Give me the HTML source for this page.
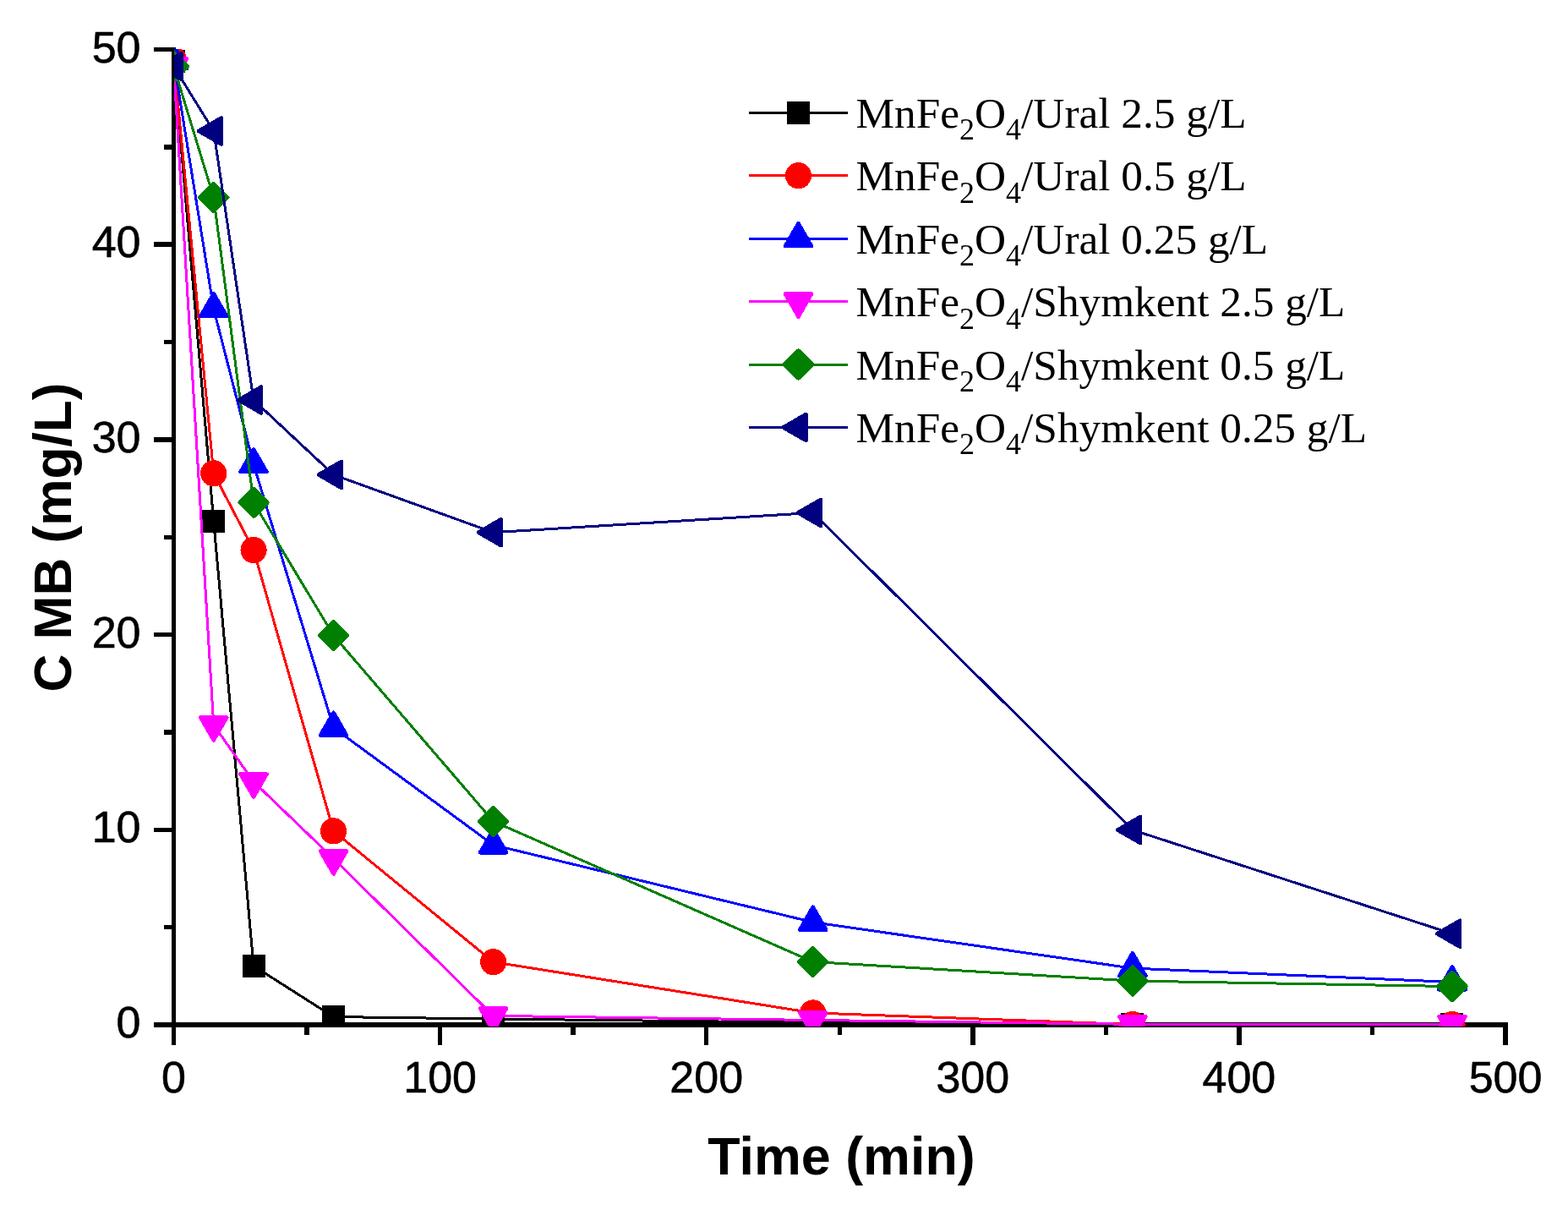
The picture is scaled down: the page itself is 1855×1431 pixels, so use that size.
<!DOCTYPE html>
<html lang="en">
<head>
<meta charset="utf-8">
<title>C MB vs Time</title>
<style>
html,body{margin:0;padding:0;background:#fff;}
body{width:1855px;height:1431px;overflow:hidden;}
svg{display:block;}
.tk{font-family:"Liberation Sans",sans-serif;font-size:52px;fill:#000;stroke:#000;stroke-width:0.6px;}
.ti{font-family:"Liberation Sans",sans-serif;font-size:62.8px;font-weight:bold;fill:#000;}
.lg{font-family:"Liberation Serif",serif;font-size:51.3px;fill:#000;}
</style>
</head>
<body>
<svg width="1855" height="1431" viewBox="0 0 1855 1431">
<rect width="1855" height="1431" fill="#fff"/>

<g stroke="#000" stroke-width="5.5" fill="none" shape-rendering="crispEdges">
<line x1="205.5" y1="56" x2="205.5" y2="1215"/>
<line x1="203" y1="1212" x2="1784" y2="1212"/>
<line x1="182" y1="1212" x2="205.5" y2="1212"/>
<line x1="194" y1="1096.65" x2="205.5" y2="1096.65"/>
<line x1="182" y1="981.3" x2="205.5" y2="981.3"/>
<line x1="194" y1="865.95" x2="205.5" y2="865.95"/>
<line x1="182" y1="750.6" x2="205.5" y2="750.6"/>
<line x1="194" y1="635.25" x2="205.5" y2="635.25"/>
<line x1="182" y1="519.9" x2="205.5" y2="519.9"/>
<line x1="194" y1="404.55" x2="205.5" y2="404.55"/>
<line x1="182" y1="289.2" x2="205.5" y2="289.2"/>
<line x1="194" y1="173.85" x2="205.5" y2="173.85"/>
<line x1="182" y1="58.5" x2="205.5" y2="58.5"/>
<line x1="205.5" y1="1212" x2="205.5" y2="1236"/>
<line x1="363.05" y1="1212" x2="363.05" y2="1224"/>
<line x1="520.6" y1="1212" x2="520.6" y2="1236"/>
<line x1="678.15" y1="1212" x2="678.15" y2="1224"/>
<line x1="835.7" y1="1212" x2="835.7" y2="1236"/>
<line x1="993.25" y1="1212" x2="993.25" y2="1224"/>
<line x1="1150.8" y1="1212" x2="1150.8" y2="1236"/>
<line x1="1308.35" y1="1212" x2="1308.35" y2="1224"/>
<line x1="1465.9" y1="1212" x2="1465.9" y2="1236"/>
<line x1="1623.45" y1="1212" x2="1623.45" y2="1224"/>
<line x1="1781" y1="1212" x2="1781" y2="1236"/>
</g>
<text class="tk" transform="translate(166.5,1227)" text-anchor="end">0</text>
<text class="tk" transform="translate(166.5,996.3)" text-anchor="end">10</text>
<text class="tk" transform="translate(166.5,765.6)" text-anchor="end">20</text>
<text class="tk" transform="translate(166.5,534.9)" text-anchor="end">30</text>
<text class="tk" transform="translate(166.5,304.2)" text-anchor="end">40</text>
<text class="tk" transform="translate(166.5,73.5)" text-anchor="end">50</text>
<text class="tk" transform="translate(205.5,1292)" text-anchor="middle">0</text>
<text class="tk" transform="translate(520.6,1292)" text-anchor="middle">100</text>
<text class="tk" transform="translate(835.7,1292)" text-anchor="middle">200</text>
<text class="tk" transform="translate(1150.8,1292)" text-anchor="middle">300</text>
<text class="tk" transform="translate(1465.9,1292)" text-anchor="middle">400</text>
<text class="tk" transform="translate(1781,1292)" text-anchor="middle">500</text>
<text class="ti" x="995.5" y="1389" text-anchor="middle">Time (min)</text>
<text class="ti" style="font-size:62.2px" transform="translate(84,635.5) rotate(-90)" text-anchor="middle">C MB (mg/L)</text>
<defs><clipPath id="pc"><rect x="206" y="58" width="1578" height="1156"/></clipPath></defs>
<g clip-path="url(#pc)" shape-rendering="crispEdges">
<polyline points="205.5,72.34 252.76,616.56 300.03,1142.33 394.56,1202.54 583.62,1205.08 961.74,1209.23 1339.86,1211.31 1717.98,1211.31" fill="none" stroke="#000000" stroke-width="3.0" stroke-linejoin="miter"/>
<rect x="192" y="58.84" width="27" height="27" fill="#000000"/>
<rect x="239.26" y="603.06" width="27" height="27" fill="#000000"/>
<rect x="286.53" y="1128.83" width="27" height="27" fill="#000000"/>
<rect x="381.06" y="1189.04" width="27" height="27" fill="#000000"/>
<rect x="570.12" y="1191.58" width="27" height="27" fill="#000000"/>
<rect x="948.24" y="1195.73" width="27" height="27" fill="#000000"/>
<rect x="1326.36" y="1197.81" width="27" height="27" fill="#000000"/>
<rect x="1704.48" y="1197.81" width="27" height="27" fill="#000000"/>
<polyline points="205.5,70.96 252.76,559.81 300.03,650.48 394.56,982.91 583.62,1137.71 961.74,1197.93 1339.86,1211.54 1717.98,1211.54" fill="none" stroke="#FF0000" stroke-width="3.0" stroke-linejoin="miter"/>
<circle cx="205.5" cy="70.96" r="15.6" fill="#FF0000"/>
<circle cx="252.76" cy="559.81" r="15.6" fill="#FF0000"/>
<circle cx="300.03" cy="650.48" r="15.6" fill="#FF0000"/>
<circle cx="394.56" cy="982.91" r="15.6" fill="#FF0000"/>
<circle cx="583.62" cy="1137.71" r="15.6" fill="#FF0000"/>
<circle cx="961.74" cy="1197.93" r="15.6" fill="#FF0000"/>
<circle cx="1339.86" cy="1211.54" r="15.6" fill="#FF0000"/>
<circle cx="1717.98" cy="1211.54" r="15.6" fill="#FF0000"/>
<polyline points="205.5,72.11 252.76,365.1 300.03,549.2 394.56,860.64 583.62,999.29 961.74,1090.65 1339.86,1145.1 1717.98,1161.48" fill="none" stroke="#0000FF" stroke-width="3.0" stroke-linejoin="miter"/>
<polygon points="205.5,54.04 221.15,81.15 189.85,81.15" fill="#0000FF" stroke="#0000FF" stroke-width="4.4" stroke-linejoin="round"/>
<polygon points="252.76,347.03 268.41,374.14 237.11,374.14" fill="#0000FF" stroke="#0000FF" stroke-width="4.4" stroke-linejoin="round"/>
<polygon points="300.03,531.13 315.68,558.23 284.38,558.23" fill="#0000FF" stroke="#0000FF" stroke-width="4.4" stroke-linejoin="round"/>
<polygon points="394.56,842.57 410.21,869.68 378.91,869.68" fill="#0000FF" stroke="#0000FF" stroke-width="4.4" stroke-linejoin="round"/>
<polygon points="583.62,981.22 599.27,1008.33 567.97,1008.33" fill="#0000FF" stroke="#0000FF" stroke-width="4.4" stroke-linejoin="round"/>
<polygon points="961.74,1072.58 977.39,1099.69 946.09,1099.69" fill="#0000FF" stroke="#0000FF" stroke-width="4.4" stroke-linejoin="round"/>
<polygon points="1339.86,1127.03 1355.51,1154.13 1324.21,1154.13" fill="#0000FF" stroke="#0000FF" stroke-width="4.4" stroke-linejoin="round"/>
<polygon points="1717.98,1143.41 1733.63,1170.51 1702.33,1170.51" fill="#0000FF" stroke="#0000FF" stroke-width="4.4" stroke-linejoin="round"/>
<polyline points="205.5,78.34 252.76,857.41 300.03,924.55 394.56,1015.44 583.62,1201.39 961.74,1206.46 1339.86,1211.31 1717.98,1211.31" fill="none" stroke="#FF00FF" stroke-width="3.0" stroke-linejoin="miter"/>
<polygon points="189.85,69.3 221.15,69.3 205.5,96.41" fill="#FF00FF" stroke="#FF00FF" stroke-width="4.4" stroke-linejoin="round"/>
<polygon points="237.11,848.38 268.41,848.38 252.76,875.49" fill="#FF00FF" stroke="#FF00FF" stroke-width="4.4" stroke-linejoin="round"/>
<polygon points="284.38,915.51 315.68,915.51 300.03,942.62" fill="#FF00FF" stroke="#FF00FF" stroke-width="4.4" stroke-linejoin="round"/>
<polygon points="378.91,1006.41 410.21,1006.41 394.56,1033.51" fill="#FF00FF" stroke="#FF00FF" stroke-width="4.4" stroke-linejoin="round"/>
<polygon points="567.97,1192.35 599.27,1192.35 583.62,1219.46" fill="#FF00FF" stroke="#FF00FF" stroke-width="4.4" stroke-linejoin="round"/>
<polygon points="946.09,1197.43 977.39,1197.43 961.74,1224.53" fill="#FF00FF" stroke="#FF00FF" stroke-width="4.4" stroke-linejoin="round"/>
<polygon points="1324.21,1202.27 1355.51,1202.27 1339.86,1229.38" fill="#FF00FF" stroke="#FF00FF" stroke-width="4.4" stroke-linejoin="round"/>
<polygon points="1702.33,1202.27 1733.63,1202.27 1717.98,1229.38" fill="#FF00FF" stroke="#FF00FF" stroke-width="4.4" stroke-linejoin="round"/>
<polyline points="205.5,78.57 252.76,233.6 300.03,594.42 394.56,751.52 583.62,971.38 961.74,1137.48 1339.86,1160.09 1717.98,1166.55" fill="none" stroke="#008000" stroke-width="3.0" stroke-linejoin="miter"/>
<polygon points="205.5,62.12 221.95,78.57 205.5,95.02 189.05,78.57" fill="#008000" stroke="#008000" stroke-width="4.4" stroke-linejoin="round"/>
<polygon points="252.76,217.15 269.21,233.6 252.76,250.05 236.31,233.6" fill="#008000" stroke="#008000" stroke-width="4.4" stroke-linejoin="round"/>
<polygon points="300.03,577.97 316.48,594.42 300.03,610.87 283.58,594.42" fill="#008000" stroke="#008000" stroke-width="4.4" stroke-linejoin="round"/>
<polygon points="394.56,735.07 411.01,751.52 394.56,767.97 378.11,751.52" fill="#008000" stroke="#008000" stroke-width="4.4" stroke-linejoin="round"/>
<polygon points="583.62,954.93 600.07,971.38 583.62,987.83 567.17,971.38" fill="#008000" stroke="#008000" stroke-width="4.4" stroke-linejoin="round"/>
<polygon points="961.74,1121.03 978.19,1137.48 961.74,1153.93 945.29,1137.48" fill="#008000" stroke="#008000" stroke-width="4.4" stroke-linejoin="round"/>
<polygon points="1339.86,1143.64 1356.31,1160.09 1339.86,1176.54 1323.41,1160.09" fill="#008000" stroke="#008000" stroke-width="4.4" stroke-linejoin="round"/>
<polygon points="1717.98,1150.1 1734.43,1166.55 1717.98,1183 1701.53,1166.55" fill="#008000" stroke="#008000" stroke-width="4.4" stroke-linejoin="round"/>
<polyline points="205.5,78.57 252.76,154.93 300.03,473.07 394.56,561.43 583.62,629.71 961.74,606.41 1339.86,981.53 1717.98,1104.26" fill="none" stroke="#000080" stroke-width="3.0" stroke-linejoin="miter"/>
<polygon points="187.63,78.57 214.74,62.92 214.74,94.22" fill="#000080" stroke="#000080" stroke-width="4.4" stroke-linejoin="round"/>
<polygon points="234.89,154.93 262,139.28 262,170.58" fill="#000080" stroke="#000080" stroke-width="4.4" stroke-linejoin="round"/>
<polygon points="282.16,473.07 309.27,457.42 309.27,488.72" fill="#000080" stroke="#000080" stroke-width="4.4" stroke-linejoin="round"/>
<polygon points="376.69,561.43 403.8,545.78 403.8,577.08" fill="#000080" stroke="#000080" stroke-width="4.4" stroke-linejoin="round"/>
<polygon points="565.75,629.71 592.86,614.06 592.86,645.36" fill="#000080" stroke="#000080" stroke-width="4.4" stroke-linejoin="round"/>
<polygon points="943.87,606.41 970.98,590.76 970.98,622.06" fill="#000080" stroke="#000080" stroke-width="4.4" stroke-linejoin="round"/>
<polygon points="1321.99,981.53 1349.1,965.88 1349.1,997.18" fill="#000080" stroke="#000080" stroke-width="4.4" stroke-linejoin="round"/>
<polygon points="1700.11,1104.26 1727.22,1088.61 1727.22,1119.91" fill="#000080" stroke="#000080" stroke-width="4.4" stroke-linejoin="round"/>
</g>
<g shape-rendering="crispEdges">
<line x1="886" y1="133.2" x2="1003" y2="133.2" stroke="#000000" stroke-width="3"/>
<rect x="931" y="119.7" width="27" height="27" fill="#000000"/>
<text class="lg" x="1012.5" y="150.7">MnFe<tspan dy="14.5" font-size="36">2</tspan><tspan dy="-14.5">O</tspan><tspan dy="14.5" font-size="36">4</tspan><tspan dy="-14.5">/Ural 2.5 g/L</tspan></text>
<line x1="886" y1="207.65" x2="1003" y2="207.65" stroke="#FF0000" stroke-width="3"/>
<circle cx="944.5" cy="207.65" r="15.6" fill="#FF0000"/>
<text class="lg" x="1012.5" y="225.15">MnFe<tspan dy="14.5" font-size="36">2</tspan><tspan dy="-14.5">O</tspan><tspan dy="14.5" font-size="36">4</tspan><tspan dy="-14.5">/Ural 0.5 g/L</tspan></text>
<line x1="886" y1="282.1" x2="1003" y2="282.1" stroke="#0000FF" stroke-width="3"/>
<polygon points="944.5,264.03 960.15,291.14 928.85,291.14" fill="#0000FF" stroke="#0000FF" stroke-width="4.4" stroke-linejoin="round"/>
<text class="lg" x="1012.5" y="299.6">MnFe<tspan dy="14.5" font-size="36">2</tspan><tspan dy="-14.5">O</tspan><tspan dy="14.5" font-size="36">4</tspan><tspan dy="-14.5">/Ural 0.25 g/L</tspan></text>
<line x1="886" y1="356.55" x2="1003" y2="356.55" stroke="#FF00FF" stroke-width="3"/>
<polygon points="928.85,347.51 960.15,347.51 944.5,374.62" fill="#FF00FF" stroke="#FF00FF" stroke-width="4.4" stroke-linejoin="round"/>
<text class="lg" x="1012.5" y="374.05">MnFe<tspan dy="14.5" font-size="36">2</tspan><tspan dy="-14.5">O</tspan><tspan dy="14.5" font-size="36">4</tspan><tspan dy="-14.5">/Shymkent 2.5 g/L</tspan></text>
<line x1="886" y1="431" x2="1003" y2="431" stroke="#008000" stroke-width="3"/>
<polygon points="944.5,414.55 960.95,431 944.5,447.45 928.05,431" fill="#008000" stroke="#008000" stroke-width="4.4" stroke-linejoin="round"/>
<text class="lg" x="1012.5" y="448.5">MnFe<tspan dy="14.5" font-size="36">2</tspan><tspan dy="-14.5">O</tspan><tspan dy="14.5" font-size="36">4</tspan><tspan dy="-14.5">/Shymkent 0.5 g/L</tspan></text>
<line x1="886" y1="505.45" x2="1003" y2="505.45" stroke="#000080" stroke-width="3"/>
<polygon points="926.43,505.45 953.54,489.8 953.54,521.1" fill="#000080" stroke="#000080" stroke-width="4.4" stroke-linejoin="round"/>
<text class="lg" x="1012.5" y="522.95">MnFe<tspan dy="14.5" font-size="36">2</tspan><tspan dy="-14.5">O</tspan><tspan dy="14.5" font-size="36">4</tspan><tspan dy="-14.5">/Shymkent 0.25 g/L</tspan></text>
</g>
</svg>
</body>
</html>
